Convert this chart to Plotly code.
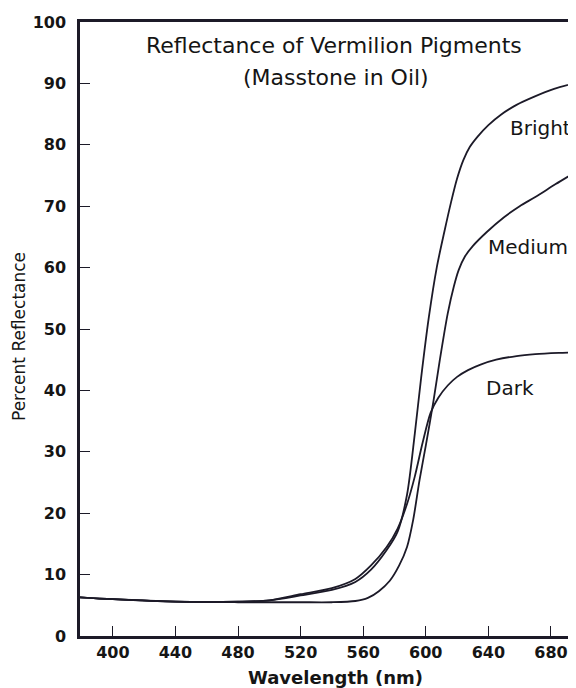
import plotly.graph_objects as go

# Wavelength (nm) and percent reflectance
wl_bright = [379, 400, 440, 480, 500, 520, 540, 555, 565, 575, 582, 588, 593, 597, 602, 607,
             612, 616, 620, 624, 628, 633, 640, 648, 658, 669, 682, 696]
bright = [6.3, 6.0, 5.6, 5.6, 5.8, 6.6, 7.5, 8.8, 10.8, 14.0, 17.0, 23.0, 33.0, 42.0, 52.0, 60.0,
          66.0, 70.5, 74.5, 77.5, 79.6, 81.3, 83.2, 84.9, 86.5, 87.8, 89.1, 90.1]

wl_medium = [379, 400, 440, 480, 500, 520, 540, 555, 563, 570, 577, 583, 588, 592, 596, 600,
             605, 609, 614, 618, 621, 625, 630, 639, 650, 660, 670, 683, 696]
medium = [6.3, 6.0, 5.6, 5.5, 5.5, 5.5, 5.5, 5.7, 6.2, 7.3, 9.0, 11.5, 14.5, 19.0, 25.4, 31.0,
          38.4, 45.0, 52.5, 57.0, 59.6, 61.8, 63.5, 65.8, 68.2, 70.0, 71.5, 73.6, 75.6]

wl_dark = [379, 400, 440, 480, 500, 520, 540, 555, 565, 575, 582, 588, 593, 598, 603, 608,
           614, 620, 627, 635, 645, 658, 670, 685, 696]
dark = [6.3, 6.0, 5.6, 5.6, 5.8, 6.8, 7.8, 9.3, 11.5, 14.5, 17.5, 21.5, 26.0, 31.5, 36.3, 38.8,
        40.8, 42.2, 43.3, 44.2, 45.0, 45.6, 45.9, 46.1, 46.2]

x_ticks = [400, 440, 480, 520, 560, 600, 640, 680]
y_ticks = [0, 10, 20, 30, 40, 50, 60, 70, 80, 90, 100]

# curve labels: (text, x in nm, y in %)
labels = [("Bright", 652.5, 82.7), ("Medium", 638.5, 63.4), ("Dark", 637.5, 40.4)]

ink = "#1c1a28"
txt = "#151515"
face = "DejaVu Sans"

fig = go.Figure()
for xs, ys in [(wl_bright, bright), (wl_medium, medium), (wl_dark, dark)]:
    fig.add_trace(go.Scatter(x=xs, y=ys, mode="lines",
                             line=dict(color=ink, width=1.8, shape="spline", smoothing=0.8),
                             showlegend=False, hoverinfo="skip"))

for text, lx, ly in labels:
    fig.add_annotation(x=lx, y=ly, text=text, showarrow=False, xanchor="left", yanchor="middle",
                       font=dict(family=face, size=20, color=txt))

# title inside the plot area
fig.add_annotation(xref="paper", yref="paper", x=0.512, y=0.9625, text="Reflectance of Vermilion Pigments",
                   showarrow=False, xanchor="center", yanchor="middle",
                   font=dict(family=face, size=22, color=txt))
fig.add_annotation(xref="paper", yref="paper", x=0.516, y=0.910, text="(Masstone in Oil)",
                   showarrow=False, xanchor="center", yanchor="middle",
                   font=dict(family=face, size=22, color=txt))

# axis titles placed as annotations (the original sits slightly off-centre)
fig.add_annotation(xref="paper", yref="paper", x=0.516, y=-0.0684, text="Wavelength (nm)",
                   showarrow=False, xanchor="center", yanchor="middle",
                   font=dict(family=face, size=18, color=txt, weight="bold"))
fig.add_annotation(xref="paper", yref="paper", x=-0.123, y=0.4886, text="Percent Reflectance",
                   showarrow=False, xanchor="center", yanchor="middle", textangle=-90,
                   font=dict(family=face, size=17, color=txt))

fig.update_xaxes(range=[379, 696], tickvals=x_ticks, ticks="inside", ticklen=10, tickwidth=1.2,
                 tickcolor=ink, showline=True, linecolor=ink, linewidth=2.5, mirror=True,
                 showgrid=False, zeroline=False,
                 tickfont=dict(family=face, size=16, color=txt, weight="bold"))
fig.update_yaxes(range=[0, 100], tickvals=y_ticks, ticks="inside", ticklen=10, tickwidth=1.2,
                 tickcolor=ink, showline=True, linecolor=ink, linewidth=2.5, mirror=False,
                 showgrid=False, zeroline=False, ticklabelstandoff=8,
                 tickfont=dict(family=face, size=16, color=txt, weight="bold"))
# page body adds an 8px margin, so the figure is 8px smaller than the window
fig.update_layout(width=568, height=680, margin=dict(l=72, r=0, t=14, b=52),
                  plot_bgcolor="white", paper_bgcolor="white")

fig.write_html("out.html")
